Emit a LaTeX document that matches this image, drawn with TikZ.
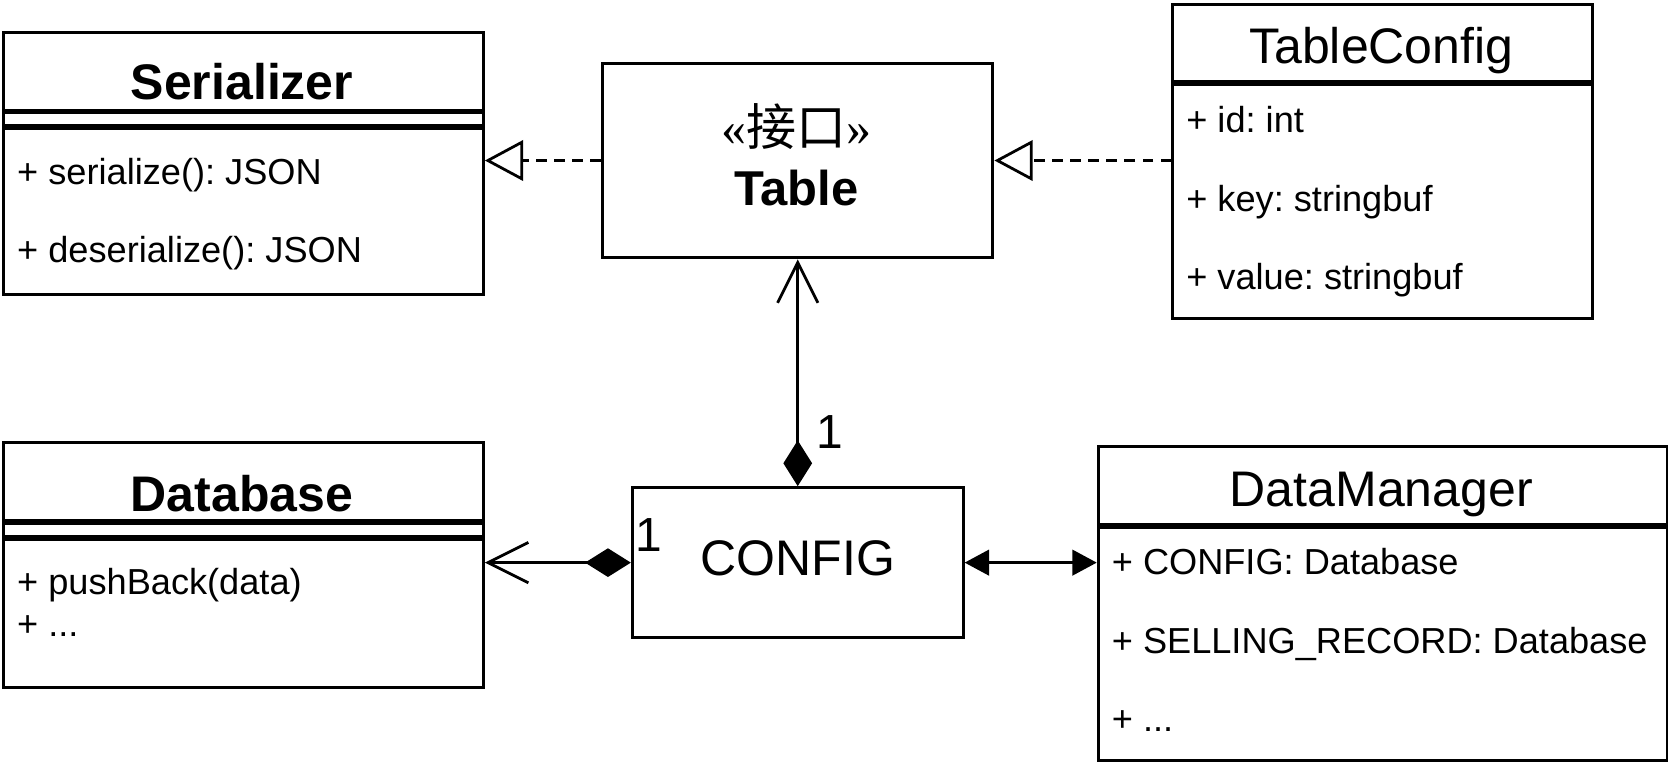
\documentclass[tikz,border=0pt]{standalone}
\usepackage{fontspec}
\setmainfont{Liberation Sans}
\newfontfamily\cjkfont{Noto Sans CJK SC}
\newfontfamily\guilfont{Liberation Serif}
\usetikzlibrary{positioning, arrows.meta}
\frenchspacing

\newcommand{\titlesize}{\fontsize{47pt}{56pt}\selectfont}
\newcommand{\attrsize}{\fontsize{34pt}{40pt}\selectfont}
\newcommand{\multsize}{\fontsize{45pt}{54pt}\selectfont}

\begin{document}
\begin{tikzpicture}[
    x=1pt, y=-1pt,
    box/.style={draw, line width=2.8pt, anchor=north west, inner sep=0pt, fill=white},
    title/.style={anchor=base, inner sep=0pt, font=\titlesize},
    attr/.style={anchor=base west, inner sep=0pt, font=\attrsize},
    mult/.style={anchor=base west, inner sep=0pt, font=\multsize},
    link/.style={line width=2.6pt},
    realize/.style={link, dash pattern=on 10pt off 7pt, -{Triangle[open, length=36pt, width=38pt]}},
    owns/.style={link, {Diamond[length=43pt, width=27pt]}-{Straight Barb[length=38pt, width=38pt]}},
    both/.style={link, {Triangle[length=23pt, width=24pt]}-{Triangle[length=23pt, width=24pt]}}
]
\useasboundingbox (0,0) rectangle (1568,719);

% Serializer
\node[box, minimum width=451pt, minimum height=73pt] (ser-head) at (2,29) {};
\node[box, minimum width=451pt, minimum height=12pt, below=0pt of ser-head] (ser-gap) {};
\node[box, minimum width=451pt, minimum height=156pt, below=0pt of ser-gap] (ser-body) {};
\node[title, font=\titlesize\bfseries] (ser-title) at (227.5,94) {Serializer};
\node[attr] (ser-a1) at (16,173) {+ serialize(): JSON};
\node[attr] (ser-a2) at (16,247) {+ deserialize(): JSON};

% Table
\node[box, minimum width=367pt, minimum height=183pt] (tab) at (565,58) {};
\node[title] (tab-st) at (748.5,137) {{\guilfont«}{\cjkfont 接口}{\guilfont»}};
\node[title, font=\fontsize{46pt}{55pt}\selectfont\bfseries] (tab-title) at (748.5,193) {Table};

% TableConfig
\node[box, minimum width=395pt, minimum height=72pt] (tc-head) at (1101,3) {};
\node[box, minimum width=395pt, minimum height=220pt, below=0pt of tc-head] (tc-body) {};
\node[title] (tc-title) at (1298.5,59.5) {TableConfig};
\node[attr] (tc-a1) at (1115,125) {+ id: int};
\node[attr] (tc-a2) at (1115,199) {+ key: stringbuf};
\node[attr] (tc-a3) at (1115,272) {+ value: stringbuf};

% Database
\node[box, minimum width=451pt, minimum height=73pt] (db-head) at (2,415) {};
\node[box, minimum width=451pt, minimum height=12pt, below=0pt of db-head] (db-gap) {};
\node[box, minimum width=451pt, minimum height=139pt, below=0pt of db-gap] (db-body) {};
\node[title, font=\titlesize\bfseries] (db-title) at (227.5,481) {Database};
\node[attr] (db-a1) at (16,559) {+ pushBack(data)};
\node[attr] (db-a2) at (16,598) {+ ...};

% CONFIG
\node[box, minimum width=311pt, minimum height=141pt, font=\titlesize, text depth=9pt] (cfg) at (593,457) {CONFIG};

% DataManager
\node[box, minimum width=535pt, minimum height=74pt] (dm-head) at (1031,418) {};
\node[box, minimum width=535pt, minimum height=219pt, below=0pt of dm-head] (dm-body) {};
\node[title] (dm-title) at (1298.5,476.5) {DataManager};
\node[attr] (dm-a1) at (1045,540) {+ CONFIG: Database};
\node[attr] (dm-a2) at (1045,614) {+ SELLING\_RECORD: Database};
\node[attr] (dm-a3) at (1045,688) {+ ...};

% connectors
\draw[realize] (tab.west) -- (tab.west -| ser-body.east);
\draw[realize] (tab.east -| tc-body.west) -- (tab.east);
\draw[owns] (cfg.north) -- (tab.south);
\draw[owns] (cfg.west) -- (cfg.west -| db-body.east);
\draw[both] (cfg.east) -- (cfg.east -| dm-body.west);

\node[mult] (m-top) at (767,422) {1};
\node[mult] (m-left) at (597,518.5) {1};
\end{tikzpicture}
\end{document}
